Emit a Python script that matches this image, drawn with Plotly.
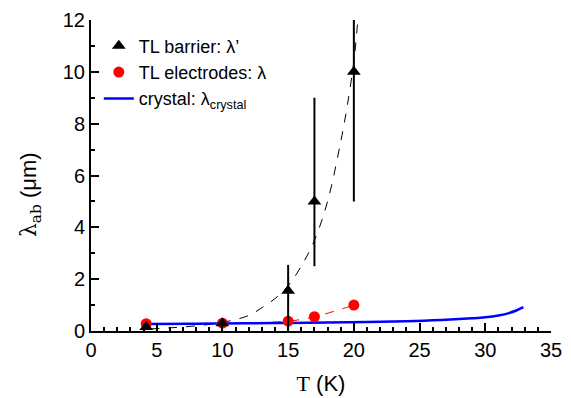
import plotly.graph_objects as go

# Data
T_pts = [4.2, 10, 15, 17, 20]
barrier = [0.15, 0.3, 1.55, 5.0, 10.0]
barrier_err_plus = [0.0, 0.0, 1.0, 4.0, 5.0]
barrier_err_minus = [0.0, 0.0, 1.55, 2.5, 5.0]
electrodes = [0.28, 0.3, 0.38, 0.55, 1.0]

fit_T = [4.5, 6, 8, 10, 12, 13, 14, 15, 16, 17, 18, 19, 19.5, 20, 20.3]
fit_y = [0.08, 0.12, 0.2, 0.33, 0.6, 0.9, 1.25, 1.75, 2.5, 3.5, 5.0, 7.3, 8.7, 10.4, 12.0]

crys_T = [4.2, 8, 12, 15, 18, 21, 24, 26, 28, 29, 30, 31, 31.8, 32.4, 32.9]
crys_y = [0.27, 0.28, 0.3, 0.31, 0.33, 0.35, 0.38, 0.41, 0.46, 0.49, 0.53, 0.6, 0.69, 0.8, 0.92]

fig = go.Figure()

fig.add_trace(go.Scatter(x=fit_T, y=fit_y, mode="lines", line=dict(color="black", width=1, dash="dash", shape="spline"),
                         showlegend=False, hoverinfo="skip"))
fig.add_trace(go.Scatter(x=T_pts, y=electrodes, mode="lines", line=dict(color="red", width=1, dash="dash", shape="spline"),
                         showlegend=False, hoverinfo="skip"))
fig.add_trace(go.Scatter(x=crys_T, y=crys_y, mode="lines", line=dict(color="blue", width=2.5, shape="spline"),
                         showlegend=False))
fig.add_trace(go.Scatter(x=T_pts, y=electrodes, mode="markers", marker=dict(color="red", size=11, symbol="circle"),
                         name="TL electrodes: λ", legendrank=2))
fig.add_trace(go.Scatter(x=T_pts, y=barrier, mode="markers",
                         marker=dict(color="black", size=12, symbol="triangle-up"),
                         error_y=dict(type="data", array=barrier_err_plus, arrayminus=barrier_err_minus,
                                      color="black", thickness=2, width=0),
                         name="TL barrier: λ’", legendrank=1))
fig.add_trace(go.Scatter(x=[None], y=[None], mode="lines", line=dict(color="blue", width=2.5),
                         name="crystal: λ<sub>crystal</sub>", legendrank=3))

axis_common = dict(showline=True, linecolor="black", linewidth=2, ticks="inside", ticklen=8, tickwidth=1.5,
                   tickcolor="black", showgrid=False, zeroline=False, mirror=False, automargin=False,
                   tickfont=dict(family="Liberation Sans, Arial", size=20, color="black"))

fig.update_layout(
    width=563, height=390,
    margin=dict(l=83, r=20, t=12, b=67),
    plot_bgcolor="white", paper_bgcolor="white",
    font=dict(family="Liberation Sans, Arial", size=18, color="black"),
    legend=dict(x=0.017, y=0.976, xanchor="left", yanchor="top", bgcolor="rgba(0,0,0,0)",
                font=dict(size=18), itemwidth=30, tracegroupgap=0),
    xaxis=dict(range=[0, 35], dtick=5, tick0=0,
               minor=dict(dtick=1, ticks="inside", ticklen=4, tickcolor="black", tickwidth=1.5),
               title=dict(text='<span style="font-family:Liberation Serif">T</span> (K)', font=dict(size=22), standoff=16),
               **axis_common),
    yaxis=dict(range=[0, 12], dtick=2, tick0=0,
               minor=dict(dtick=1, ticks="inside", ticklen=4, tickcolor="black", tickwidth=1.5),
               **axis_common),
    annotations=[dict(text='<span style="font-family:DejaVu Serif">λ<sub>ab</sub></span> (μm)',
                      xref="paper", yref="paper", x=-0.1326, y=0.437, textangle=-90,
                      showarrow=False, font=dict(size=22), xanchor="center", yanchor="middle")],
)

fig.write_html("out.html")
